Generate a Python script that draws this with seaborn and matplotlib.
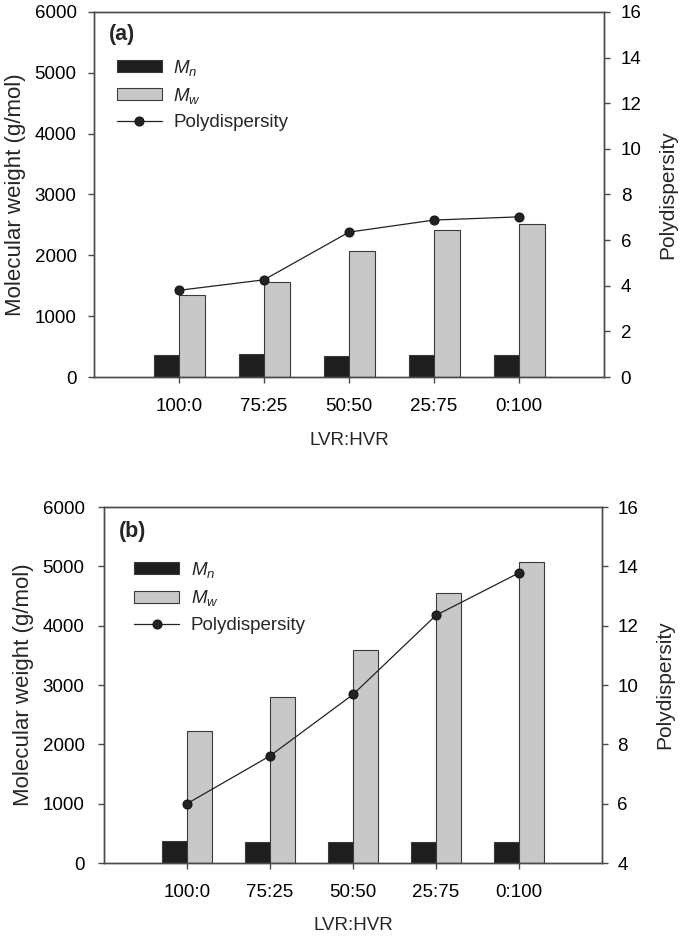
import numpy as np
import pandas as pd
import matplotlib
matplotlib.use('Agg')
import matplotlib.pyplot as plt
import seaborn as sns

# ── data ──
ratios = ['100:0', '75:25', '50:50', '25:75', '0:100']

mn_a = [365, 378, 340, 355, 365]
mw_a = [1342, 1556, 2066, 2416, 2510]
pdi_a = [3.80, 4.26, 6.35, 6.88, 7.02]

mn_b = [365, 362, 362, 362, 362]
mw_b = [2230, 2796, 3585, 4555, 5076]
pdi_b = [6.00, 7.61, 9.68, 12.35, 13.78]

series_names = ['$M_n$', '$M_w$']
bar_colors = ['#1e1e1e', '#c8c8c8']

sns.set_style('ticks')
plt.rcParams['font.family'] = ['Liberation Sans', 'DejaVu Sans']
plt.rcParams['mathtext.fontset'] = 'custom'
plt.rcParams['mathtext.rm'] = 'Liberation Sans'
plt.rcParams['mathtext.it'] = 'Liberation Sans:italic'
plt.rcParams['xtick.labelcolor'] = 'black'
plt.rcParams['ytick.labelcolor'] = 'black'

FS = 13.5
EDGE = '#4a4a4a'


def draw_panel(fig, rect, mn, mw, pdi, tag, pdi_lim, pdi_ticks,
               left_pad, right_pad, tag_y, leg_xy):
    df = pd.DataFrame({
        'ratio': ratios * 2,
        'series': [series_names[0]] * len(ratios) + [series_names[1]] * len(ratios),
        'value': list(mn) + list(mw),
    })
    ax = fig.add_axes(rect)
    sns.barplot(data=df, x='ratio', y='value', hue='series', order=ratios,
                hue_order=series_names, palette=bar_colors, width=0.6,
                edgecolor='#3a3a3a', linewidth=0.8, saturation=1, ax=ax)
    handles, labels = ax.get_legend_handles_labels()
    if ax.get_legend() is not None:
        ax.get_legend().remove()

    ax2 = ax.twinx()
    xpos = np.arange(len(ratios))
    sns.lineplot(x=xpos, y=pdi, ax=ax2, color='#222222', linewidth=0.9,
                 marker='o', markersize=6.5, markeredgecolor='#111111',
                 label='Polydispersity', legend=False)
    line_handle = ax2.get_lines()[0]

    ax.set_ylim(0, 6000)
    ax.set_yticks(np.arange(0, 6001, 1000))
    ax2.set_ylim(*pdi_lim)
    ax2.set_yticks(pdi_ticks)
    ax.set_xlim(-1, len(ratios))

    for a in (ax, ax2):
        for s in a.spines.values():
            s.set_visible(True)
            s.set_linewidth(1.0)
            s.set_color(EDGE)
    ax.tick_params(axis='y', labelsize=FS, direction='out', length=4, width=1,
                   color=EDGE, pad=left_pad)
    ax.tick_params(axis='x', labelsize=FS, direction='out', length=4, width=1,
                   color=EDGE, pad=11)
    ax2.tick_params(axis='y', labelsize=FS, direction='out', length=4, width=1,
                    color=EDGE, pad=right_pad)

    ax.set_xlabel('LVR:HVR', fontsize=FS, labelpad=12)
    ax.set_ylabel('Molecular weight (g/mol)', fontsize=16, labelpad=6)
    ax2.set_ylabel('Polydispersity', fontsize=15, labelpad=12)

    ax.text(0.03, tag_y, tag, transform=ax.transAxes, fontsize=15.5,
            fontweight='bold', va='top', ha='left')
    ax2.legend(handles + [line_handle], labels + ['Polydispersity'],
               loc='upper left', bbox_to_anchor=leg_xy, frameon=False,
               fontsize=FS, handlelength=2.4, handleheight=0.6,
               handletextpad=0.6, labelspacing=0.45, borderaxespad=0, borderpad=0)
    return ax, ax2


fig = plt.figure(figsize=(6.85, 9.40), dpi=100)
draw_panel(fig, [94 / 685, 1 - 377 / 940, 510 / 685, 365 / 940],
           mn_a, mw_a, pdi_a, '(a)', (0, 16), np.arange(0, 17, 2), 8.5, 8,
           0.967, (0.045, 0.875))
draw_panel(fig, [104 / 685, 1 - 863 / 940, 498 / 685, 356 / 940],
           mn_b, mw_b, pdi_b, '(b)', (4, 16), np.arange(4, 17, 2), 10, 7,
           0.96, (0.061, 0.851))

fig.savefig('out.png', dpi=100)
